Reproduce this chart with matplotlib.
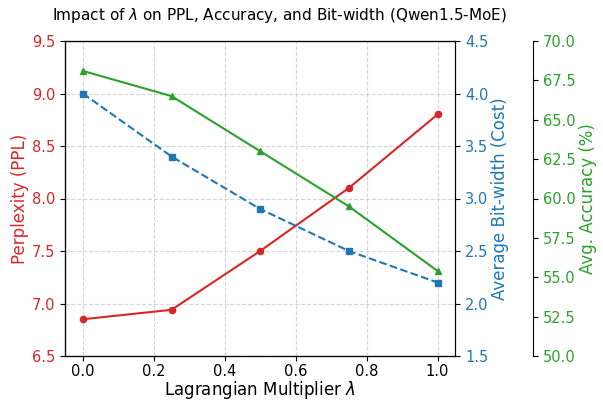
import matplotlib
matplotlib.use("Agg")
import matplotlib.pyplot as plt

# data
lambdas = [0.0, 0.25, 0.5, 0.75, 1.0]
ppl = [6.85, 6.94, 7.5, 8.1, 8.8]
bitwidth = [4.0, 3.4, 2.9, 2.5, 2.2]
accuracy = [68.1, 66.5, 63.0, 59.5, 55.4]

red = "#d62728"
blue = "#1f77b4"
green = "#2ca02c"

fig = plt.figure(figsize=(6.03, 4.0), dpi=100)
ax1 = fig.add_axes([0.108, 0.11, 0.647, 0.7875])

ax1.plot(lambdas, ppl, color=red, marker="o", markersize=4.5, linewidth=1.5)
ax1.set_xlabel(r"Lagrangian Multiplier $\lambda$", fontsize=12, labelpad=0)
ax1.set_ylabel("Perplexity (PPL)", color=red, fontsize=12, labelpad=2)
ax1.set_ylim(6.5, 9.5)
ax1.tick_params(axis="y", labelcolor=red, labelsize=10.5)
ax1.tick_params(axis="x", labelsize=10.5, pad=2.5)
ax1.grid(True, linestyle="--", alpha=0.6, color="#bbbbbb", linewidth=0.8)

ax2 = ax1.twinx()
ax2.plot(lambdas, bitwidth, color=blue, marker="s", markersize=4.5,
         linewidth=1.5, linestyle="--")
ax2.set_ylabel("Average Bit-width (Cost)", color=blue, fontsize=12, labelpad=2)
ax2.set_ylim(1.5, 4.5)
ax2.tick_params(axis="y", labelcolor=blue, labelsize=10.5)

ax3 = ax1.twinx()
ax3.spines["right"].set_position(("axes", 1.2))
ax3.plot(lambdas, accuracy, color=green, marker="^", markersize=5,
         linewidth=1.5)
ax3.set_ylabel("Avg. Accuracy (%)", color=green, fontsize=12, labelpad=2)
ax3.set_ylim(50, 70)
ax3.tick_params(axis="y", labelcolor=green, labelsize=10.5)

fig.suptitle(r"Impact of $\lambda$ on PPL, Accuracy, and Bit-width (Qwen1.5-MoE)",
             fontsize=11, x=0.463, y=0.985)

fig.savefig("out.png", dpi=100)
